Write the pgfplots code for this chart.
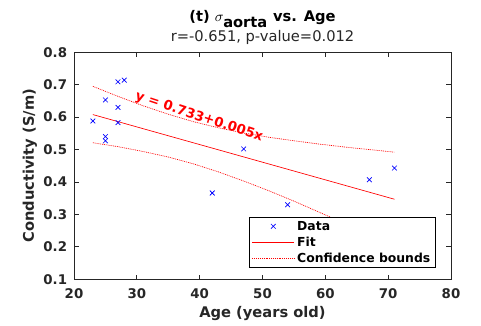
\documentclass[border=0pt]{standalone}
\usepackage{fontspec}
\setmainfont{DejaVu Sans}
\usepackage{pgfplots}
\pgfplotsset{compat=1.18}
\definecolor{axgray}{RGB}{38,38,38}
\pgfplotsset{
  mylinelegend/.style={legend image code/.code={\draw[##1] (0cm,0cm) -- (1.1cm,0cm);}},
  mymarklegend/.style={legend image code/.code={\draw[##1] plot coordinates {(0.55cm,0cm)};}},
}
\begin{document}
\begin{tikzpicture}
\begin{axis}[
  scale only axis,
  width=282.75pt, height=170.25pt,
  xmin=20, xmax=80, ymin=0.1, ymax=0.8,
  xtick={20,30,40,50,60,70,80},
  ytick={0.1,0.2,0.3,0.4,0.5,0.6,0.7,0.8},
  tick align=inside, tick pos=both,
  major tick length=3.5pt,
  axis line style={axgray, line width=0.7pt},
  every tick/.style={axgray, line width=0.7pt},
  /pgf/number format/assume math mode=true,
  yticklabel style={/pgf/number format/fixed,/pgf/number format/fixed zerofill,/pgf/number format/precision=1},
  ticklabel style={font=\bfseries\fontsize{10}{12}\selectfont, text=axgray, inner sep=0pt},
  xticklabel style={anchor=center, yshift=-11pt},
  yticklabel style={anchor=east, xshift=-5pt},
  legend style={at={(0.96,0.05)}, anchor=south east, fill=white,
    inner xsep=2pt, inner ysep=1pt, row sep=0pt,
    font=\bfseries\fontsize{9.3}{11}\selectfont,
    nodes={text height=7.5pt, text depth=1.5pt, inner ysep=1.5pt}},
  legend cell align=left,
]
\coordinate (bl) at (rel axis cs:0,0);
\coordinate (tr) at (rel axis cs:1,1);
\coordinate (lc) at (rel axis cs:0,0.5);
\coordinate (bc) at (rel axis cs:0.5,0);
\coordinate (tc) at (rel axis cs:0.5,1);
\addlegendimage{only marks, mark=x, mark size=2.5pt, blue, mark options={line width=0.5pt}, mymarklegend}
\addlegendentry{Data}
\addlegendimage{red, line width=0.5pt, mylinelegend}
\addlegendentry{Fit}
\addlegendimage{red, line width=0.5pt, dash pattern=on 0.7pt off 0.7pt, mylinelegend}
\addlegendentry{Confidence bounds}
\addplot[only marks, mark=x, mark size=2.5pt, blue, mark options={line width=0.5pt}, forget plot] coordinates {
(23,0.588) (25,0.653) (25,0.540) (25,0.527) (27,0.630) (27,0.583) (27,0.709) (28,0.714)
(47,0.502) (42,0.366) (42,0.366) (54,0.330) (67,0.407) (71,0.443)};
\addplot[red, line width=0.5pt, no marks, forget plot] coordinates {(23,0.6079) (71,0.3468)};
\addplot[red, line width=0.5pt, dash pattern=on 0.7pt off 0.7pt, no marks, forget plot] coordinates {
(23,0.695) (27,0.664) (31,0.635) (35,0.609) (39,0.586) (43,0.567) (47,0.551) (51,0.538)
(55,0.527) (59,0.517) (63,0.508) (67,0.500) (71,0.492)};
\addplot[red, line width=0.5pt, dash pattern=on 0.7pt off 0.7pt, no marks, forget plot] coordinates {
(23,0.521) (27,0.509) (31,0.494) (35,0.477) (39,0.456) (43,0.431) (47,0.403) (51,0.373)
(55,0.341) (59,0.307) (63,0.273) (67,0.237) (71,0.202)};
\node[rotate=-18.3, text=red, font=\bfseries\fontsize{10}{12}\selectfont, inner sep=0pt] at (axis cs:39.9,0.600) {y = 0.733+0.005x};
\end{axis}
\node[rotate=90, text=axgray, font=\bfseries\fontsize{11}{13}\selectfont] at ([xshift=-33pt]lc) {Conductivity (S/m)};
\node[text=axgray, font=\bfseries\fontsize{11}{13}\selectfont] at ([yshift=-26pt]bc) {Age (years old)};
\node[text=black, font=\bfseries\fontsize{11}{13}\selectfont] at ([yshift=25pt]tc) {(t) $\sigma_{\textbf{aorta}}$ vs. Age};
\node[text=axgray, font=\fontsize{11}{13}\selectfont] at ([yshift=11pt]tc) {r=-0.651, p-value=0.012};
\pgfresetboundingbox
\path ([shift={(-55.5pt,-34.3pt)}]bl) rectangle ([shift={(22.5pt,39.2pt)}]tr);
\end{tikzpicture}
\end{document}
